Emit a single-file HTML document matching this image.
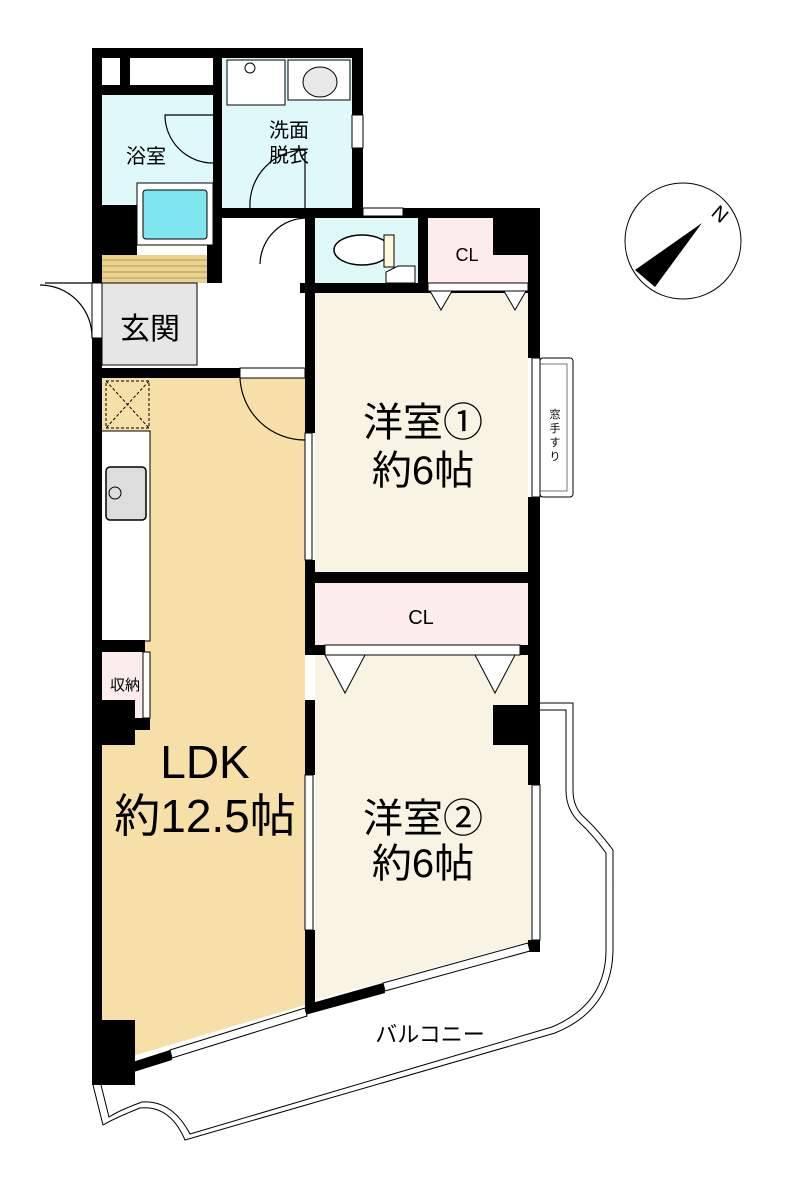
<!DOCTYPE html>
<html><head><meta charset="utf-8"><style>
html,body{margin:0;padding:0;background:#fff;}
svg{display:block}
text{font-family:"Liberation Sans","Noto Sans CJK JP",sans-serif;}
</style></head><body>
<svg width="803" height="1190" viewBox="0 0 803 1190" xmlns="http://www.w3.org/2000/svg">
<!-- balcony outline -->
<path d="M93,1085 L103,1125 Q115,1118 140,1108 Q170,1105 185,1140 L555,1033 Q612,1010 613,950 L613,850 Q598,830 585,818 Q573,808 573,790 L573,703 L540,703" fill="none" stroke="#000" stroke-width="1"/>
<path d="M101,1085 L109,1117 Q120,1110 142,1102 Q172,1100 190,1134 L552,1027 Q606,1004 606,950 L606,853 Q593,835 580,823 Q566,810 566,790 L566,710 L540,710" fill="none" stroke="#000" stroke-width="1"/>
<!-- window handrail right of room1 -->
<rect x="540" y="358" width="33" height="139" rx="3" fill="#fff" stroke="#000" stroke-width="1"/>
<rect x="540" y="364" width="27" height="127" fill="none" stroke="#777" stroke-width="1"/>
<text x="555" y="418" font-size="11" text-anchor="middle">窓</text>
<text x="555" y="432" font-size="11" text-anchor="middle">手</text>
<text x="555" y="446" font-size="11" text-anchor="middle">す</text>
<text x="555" y="460" font-size="11" text-anchor="middle">り</text>

<!-- room fills -->
<rect x="102" y="95" width="111" height="112" fill="#dff9fb"/>
<rect x="222" y="58" width="130" height="150" fill="#dff9fb"/>
<rect x="315" y="218" width="103" height="65" fill="#dff9fb"/>
<rect x="428" y="218" width="100" height="65" fill="#fcecec"/>
<rect x="102" y="255" width="105" height="28" fill="#e8d28e"/>
<g stroke="#b89a50" stroke-width="1"><line x1="102" y1="260" x2="207" y2="260"/><line x1="102" y1="266" x2="207" y2="266"/><line x1="102" y1="272" x2="207" y2="272"/><line x1="102" y1="278" x2="207" y2="278"/></g>
<rect x="102" y="283" width="95" height="82" fill="#e6e6e6" stroke="#000" stroke-width="1"/>
<rect x="315" y="290" width="213" height="282" fill="#f9f3e3"/>
<rect x="315" y="583" width="213" height="62" fill="#fcecec"/>
<polygon points="315,655 528,655 535,940 315,1000" fill="#f9f3e3"/>
<polygon points="102,378 305,378 305,1005 102,1065" fill="#f6e0a8"/>
<!-- kitchen -->
<rect x="106" y="381" width="43" height="47" fill="none" stroke="#000" stroke-dasharray="3,2"/>
<line x1="106" y1="381" x2="149" y2="428" stroke="#000" stroke-dasharray="3,2"/>
<line x1="149" y1="381" x2="106" y2="428" stroke="#000" stroke-dasharray="3,2"/>
<rect x="101" y="431" width="49" height="210" fill="#fff" stroke="#000"/>
<rect x="106" y="467" width="40" height="53" rx="4" fill="#ddd" stroke="#000" stroke-width="1.5"/>
<circle cx="115" cy="493" r="6" fill="#ddd" stroke="#000"/>
<!-- 収納 -->
<rect x="102" y="652" width="48" height="66" fill="#fcecec"/>
<rect x="143" y="652" width="7" height="66" fill="#fff" stroke="#000" stroke-width="1"/>

<!-- walls -->
<g fill="#000">
<rect x="92" y="48" width="271" height="10"/>
<rect x="92" y="48" width="10" height="47"/>
<rect x="120" y="48" width="10" height="47"/>
<rect x="92" y="85" width="130" height="10"/>
<rect x="213" y="48" width="9" height="167"/>
<rect x="352" y="48" width="11" height="170"/>
<rect x="92" y="95" width="10" height="190"/>
<rect x="92" y="205" width="45" height="50"/>
<rect x="92" y="205" width="130" height="10"/>
<rect x="207" y="205" width="15" height="78"/>
<rect x="222" y="208" width="93" height="10"/>
<rect x="300" y="208" width="240" height="10"/>
<rect x="305" y="208" width="10" height="75"/>
<rect x="300" y="283" width="240" height="10"/>
<rect x="418" y="208" width="10" height="80"/>
<rect x="493" y="208" width="47" height="47"/>
<rect x="528" y="208" width="12" height="150"/>
<rect x="528" y="497" width="12" height="180"/>
<rect x="92" y="338" width="10" height="40"/>
<rect x="92" y="368" width="148" height="10"/>
<rect x="305" y="283" width="10" height="150"/>
<rect x="305" y="572" width="235" height="11"/>
<rect x="305" y="645" width="20" height="10"/>
<rect x="520" y="645" width="20" height="10"/>
<rect x="305" y="560" width="10" height="95"/>
<rect x="305" y="700" width="10" height="75"/>
<rect x="305" y="930" width="10" height="75"/>
<rect x="92" y="378" width="10" height="707"/>
<rect x="92" y="640" width="53" height="12"/>
<rect x="92" y="700" width="43" height="45"/>
<rect x="92" y="718" width="58" height="12"/>
<rect x="493" y="705" width="47" height="40"/>
<rect x="528" y="655" width="12" height="130"/>
<rect x="528" y="940" width="12" height="12"/>
<rect x="92" y="1020" width="43" height="65"/>
<polygon points="92,1085 92,1075 170,1050 172,1060"/>
<polygon points="305,1005 383,983 385,993 305,1015"/>
</g>
<!-- windows & thin lines -->
<g fill="#fff" stroke="#000" stroke-width="1">
<rect x="352" y="115" width="11" height="33"/>
<rect x="363" y="208" width="40" height="8"/>
<rect x="532" y="358" width="8" height="139"/>
<rect x="532" y="785" width="8" height="155"/>
<rect x="305" y="433" width="7" height="127"/>
<rect x="305" y="775" width="8" height="155"/>
<rect x="240" y="368" width="65" height="10"/>
<rect x="325" y="645" width="195" height="10"/>
<rect x="428" y="283" width="100" height="8"/>
<rect x="92" y="283" width="10" height="55"/>
<polygon points="170,1050 305,1008 307,1016 172,1058"/>
<polygon points="383,983 528,943 530,951 385,991"/>
</g>
<!-- fixtures -->
<rect x="227" y="60" width="58" height="45" fill="#fff" stroke="#000"/>
<circle cx="250" cy="68" r="5" fill="#fff" stroke="#000"/>
<rect x="288" y="60" width="62" height="40" fill="#fff" stroke="#000"/>
<ellipse cx="320" cy="82" rx="17" ry="15" fill="#e8e8e8" stroke="#000"/>
<rect x="137" y="183" width="76" height="62" fill="#fff" stroke="#000"/>
<rect x="143" y="190" width="64" height="49" rx="3" fill="#7fe6f0" stroke="#000"/>
<ellipse cx="362" cy="250" rx="28" ry="15" fill="#fff" stroke="#000" stroke-width="1.5"/>
<rect x="384" y="235" width="10" height="32" fill="#fff8dc" stroke="#000"/>
<polygon points="386,283 386,272 398,266 415,266 415,283" fill="#fff" stroke="#000"/>
<!-- doors -->
<g fill="none" stroke="#000" stroke-width="1.2">
<path d="M213,115 L165,115 A48,48 0 0 0 213,163"/>
<path d="M250,208 A55,55 0 0 1 305,150 L305,208"/>
<path d="M260,264 A47,47 0 0 1 307,218"/>
<path d="M240,378 A65,65 0 0 0 305,440"/>
<path d="M92,283 L45,283 M92,338 A52,52 0 0 0 40,285"/>
</g>
<g fill="#fff" stroke="#000" stroke-width="1">
<polygon points="430,291 452,291 441,310"/>
<polygon points="504,291 526,291 515,310"/>
<polygon points="325,655 365,655 345,693"/>
<polygon points="475,655 515,655 495,693"/>
</g>
<!-- compass -->
<circle cx="683" cy="241" r="58" fill="#fff" stroke="#000" stroke-width="1"/>
<polygon points="702,223 635,270 655,287" fill="#000"/>
<text x="714" y="216" font-size="20" font-family="Liberation Serif" transform="rotate(40 714 210)">N</text>
<!-- labels -->
<text x="146" y="163" font-size="20" text-anchor="middle">浴室</text>
<text x="289" y="137" font-size="20" text-anchor="middle">洗面</text>
<text x="289" y="162" font-size="20" text-anchor="middle">脱衣</text>
<text x="467" y="261" font-size="18" text-anchor="middle">CL</text>
<text x="150" y="339" font-size="30" text-anchor="middle">玄関</text>
<text x="423" y="436" font-size="40" text-anchor="middle">洋室①</text>
<text x="423" y="484" font-size="40" text-anchor="middle">約6帖</text>
<text x="421" y="624" font-size="20" text-anchor="middle">CL</text>
<text x="125" y="690" font-size="15" text-anchor="middle">収納</text>
<text x="205" y="778" font-size="46" text-anchor="middle">LDK</text>
<text x="205" y="832" font-size="46" text-anchor="middle">約12.5帖</text>
<text x="423" y="832" font-size="40" text-anchor="middle">洋室②</text>
<text x="423" y="877" font-size="40" text-anchor="middle">約6帖</text>
<text x="430" y="1042" font-size="22" text-anchor="middle">バルコニー</text>
</svg>
</body></html>
